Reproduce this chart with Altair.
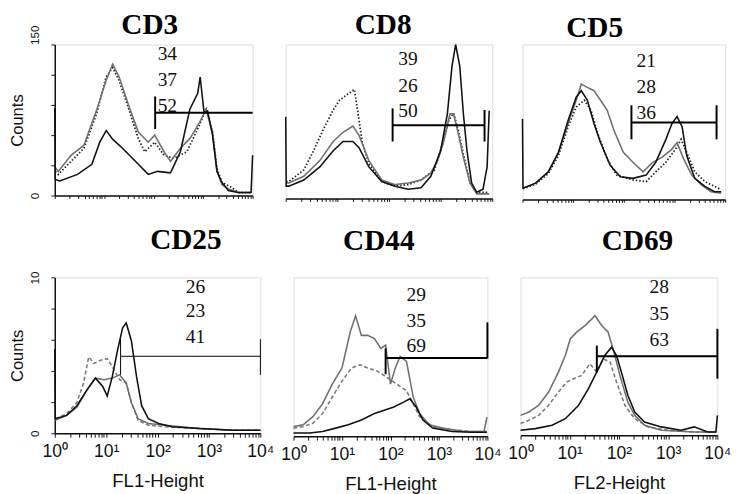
import math
import altair as alt
import pandas as pd

# ---------------- data (x: log10 fluorescence decades, y: counts) ----------------
PANEL_NAMES = ["CD3", "CD8", "CD5", "CD25", "CD44", "CD69"]
X_TITLES = [None, None, None, "FL1-Height", "FL1-Height", "FL2-Height"]
Y_MAX = [150, 100, 100, 100, 100, 100]
Y_TICKS = [[0, 30, 60, 90, 120, 150], None, None, [0, 20, 40, 60, 80, 100], None, None]
Y_TICK_TEXT = [{0: "0", 150: "150"}, None, None, {0: "0", 100: "10"}, None, None]
X_DECADES = [0, 1, 2, 3, 4]

PCT_VALUES = [[34, 37, 52], [39, 26, 50], [21, 28, 36], [26, 23, 41], [29, 35, 69], [28, 35, 63]]
PCT_X = [2.08, 2.18, 2.25, 2.55, 2.33, 2.62]
PCT_Y = [[140.3, 114.5, 88.7], [90.3, 72.9, 56.5], [89.1, 72.3, 55.6],
         [93.75, 78.1, 61.5], [89.1, 72.7, 56.4], [93.7, 76.8, 60.0]]

GATE_FROM = [2.03, 2.07, 2.15, 1.28, 1.90, 1.55]
GATE_TO = [4.00, 3.85, 3.83, 4.00, 4.00, 4.00]
GATE_AT = [82.3, 47.6, 49.7, 49.4, 49.2, 50.1]
GATE_CAPS = [
    [(2.03, 66.1, 98.4)],
    [(2.07, 37.0, 58.5), (3.85, 37.0, 57.5)],
    [(2.15, 38.8, 60.8), (3.83, 38.8, 60.8)],
    [(1.28, 37.5, 60.4), (4.00, 37.5, 60.4)],
    [(1.90, 39.0, 55.3), (4.00, 49.0, 71.7)],
    [(1.55, 40.0, 56.8), (4.00, 35.8, 67.4)],
]

CD3_BLACK_X = [0.00, 0.01, 0.10, 0.46, 0.75, 0.91, 1.04, 1.17, 1.37, 1.63, 1.89, 2.08, 2.34, 2.54, 2.73, 2.89, 2.94, 3.02, 3.09, 3.19, 3.28, 3.38, 3.51, 3.71, 3.97, 4.00]
CD3_BLACK_Y = [87, 16, 14.5, 21, 31, 53, 64.5, 56, 47, 34, 21, 24, 22.6, 43.5, 85.5, 101.6, 117.7, 82, 84, 60, 24, 13, 5, 3, 3, 40]
CD3_GRAY_X = [0.01, 0.07, 0.33, 0.59, 0.85, 1.04, 1.17, 1.30, 1.50, 1.69, 1.89, 2.02, 2.21, 2.34, 2.54, 2.73, 2.93, 3.06, 3.19, 3.28, 3.38, 3.51, 3.71, 3.97]
CD3_GRAY_Y = [28, 24, 40, 50, 85.5, 114.5, 130.6, 118, 88.7, 63, 53, 60, 43.5, 34, 47, 56.5, 72.6, 85.5, 63, 24, 11, 6.5, 3, 3]
CD3_DOT_X = [0.01, 0.07, 0.33, 0.59, 0.85, 1.04, 1.17, 1.30, 1.50, 1.69, 1.82, 2.02, 2.21, 2.41, 2.67, 2.86, 3.06, 3.19, 3.28, 3.38, 3.58, 3.71, 3.97]
CD3_DOT_Y = [24, 21, 34, 47, 82, 118, 127, 114.5, 85.5, 56.5, 43.5, 53, 40, 37, 43.5, 63, 85.5, 63, 27, 13, 8, 3, 3]

CD8_BLACK_X = [0.00, 0.01, 0.06, 0.35, 0.66, 0.92, 1.11, 1.30, 1.42, 1.61, 1.86, 2.12, 2.37, 2.62, 2.81, 3.00, 3.13, 3.22, 3.29, 3.37, 3.44, 3.51, 3.60, 3.70, 3.82, 3.90, 3.94]
CD8_BLACK_Y = [53, 8, 8, 12, 20.5, 31, 37, 37, 33, 20.5, 11, 8, 6, 7, 14.4, 31, 55, 86, 100, 86, 55, 31, 10, 4, 6, 20.5, 57]
CD8_GRAY_X = [0.01, 0.06, 0.35, 0.66, 0.92, 1.11, 1.30, 1.42, 1.61, 1.86, 2.12, 2.37, 2.62, 2.81, 2.94, 3.06, 3.18, 3.25, 3.35, 3.44, 3.57, 3.70, 3.82, 3.94]
CD8_GRAY_Y = [10, 10, 14.4, 24.6, 37, 43, 47, 41, 24.6, 12, 9, 10, 12, 16.4, 24.6, 37, 55, 55, 41, 26.7, 10, 3, 3, 3]
CD8_DOT_X = [0.01, 0.06, 0.35, 0.54, 0.73, 0.92, 1.04, 1.20, 1.33, 1.39, 1.48, 1.61, 1.86, 2.12, 2.37, 2.62, 2.88, 3.03, 3.16, 3.25, 3.35, 3.44, 3.57, 3.70, 3.82, 3.94]
CD8_DOT_Y = [11, 11, 18.5, 31, 45, 57.5, 63.7, 67.8, 70.8, 57.5, 37, 22.6, 11, 8, 9, 12, 18.5, 35, 51, 55.4, 43, 28.7, 10, 4, 4, 4]

CD5_BLACK_X = [0.00, 0.01, 0.26, 0.51, 0.71, 0.90, 1.06, 1.16, 1.28, 1.41, 1.54, 1.73, 1.93, 2.18, 2.44, 2.63, 2.83, 2.95, 3.05, 3.15, 3.24, 3.40, 3.60, 3.79, 3.92]
CD5_BLACK_Y = [52, 7.3, 10.5, 17.8, 30.4, 51, 66, 70.2, 64, 49, 36.7, 22, 14.7, 13.6, 15.7, 24, 38.8, 49, 53.5, 47, 28.3, 13.6, 8.4, 5, 5]
CD5_GRAY_X = [0.01, 0.26, 0.51, 0.71, 0.90, 1.06, 1.16, 1.28, 1.41, 1.54, 1.67, 1.80, 1.99, 2.18, 2.38, 2.57, 2.76, 2.95, 3.05, 3.18, 3.34, 3.53, 3.72, 3.92]
CD5_GRAY_Y = [7.3, 10.5, 17.8, 30.4, 49, 64, 74.4, 72.3, 70.2, 64, 57.7, 45, 30.4, 24, 17.8, 24, 27.3, 32.5, 36.7, 26.2, 15.7, 9.4, 5, 4]
CD5_DOT_X = [0.01, 0.26, 0.51, 0.71, 0.90, 1.06, 1.22, 1.35, 1.48, 1.67, 1.86, 2.18, 2.44, 2.63, 2.83, 3.02, 3.13, 3.24, 3.40, 3.60, 3.79, 3.92]
CD5_DOT_Y = [6.9, 9.9, 16.8, 28.3, 47, 59.7, 64, 57.7, 43, 26.2, 15.7, 12.6, 11.5, 17.8, 24, 32.5, 38.8, 30.4, 17.8, 11.5, 8.4, 6.3]

CD25_BLACK_X = [0.00, 0.01, 0.23, 0.43, 0.63, 0.79, 0.93, 1.02, 1.12, 1.22, 1.32, 1.39, 1.49, 1.59, 1.69, 1.82, 2.02, 2.28, 2.81, 3.47, 4.00]
CD25_BLACK_Y = [54, 9.4, 11.5, 17.7, 28, 35.4, 30.2, 24, 36.5, 53, 67.7, 70.8, 59.4, 36.5, 17.7, 9.4, 6.25, 4.2, 3.1, 2, 2]
CD25_GRAY_X = [0.01, 0.23, 0.43, 0.63, 0.79, 0.96, 1.12, 1.26, 1.39, 1.49, 1.62, 1.82, 2.15, 2.81, 3.47, 4.00]
CD25_GRAY_Y = [8.3, 11.5, 16.7, 28, 35.4, 34.4, 35.4, 37.5, 32.3, 19.8, 9.4, 6.25, 5.2, 3.1, 2, 2]
CD25_DASH_X = [0.01, 0.23, 0.43, 0.56, 0.66, 0.76, 0.89, 1.02, 1.12, 1.26, 1.39, 1.49, 1.62, 1.82, 2.15, 2.81, 3.47, 4.00]
CD25_DASH_Y = [9.4, 12.5, 19.8, 32.3, 49, 44.8, 46.9, 47.9, 42.7, 34.4, 32.3, 19.8, 8.3, 5.2, 4.2, 3.1, 2, 2]

CD44_BLACK_X = [0.00, 0.33, 0.60, 0.87, 1.13, 1.40, 1.67, 1.87, 2.07, 2.27, 2.40, 2.53, 2.67, 2.87, 3.27, 3.67, 3.99]
CD44_BLACK_Y = [2, 2, 3, 5.1, 7.2, 10.2, 14.3, 16.4, 18.4, 21.5, 23.6, 18.4, 10.2, 5.1, 3, 2.5, 2.5]
CD44_GRAY_X = [0.00, 0.20, 0.40, 0.60, 0.80, 1.00, 1.17, 1.28, 1.40, 1.53, 1.67, 1.80, 1.90, 2.00, 2.10, 2.20, 2.33, 2.47, 2.60, 2.80, 3.07, 3.53, 3.93, 3.99]
CD44_GRAY_Y = [6.1, 7.2, 12.3, 20.5, 32.8, 43, 65.6, 75.8, 63.5, 63.5, 61.5, 55.3, 57.4, 32.8, 43, 50.2, 47.1, 24.6, 14.3, 7.2, 5.1, 3, 3, 12]
CD44_DASH_X = [0.00, 0.20, 0.40, 0.60, 0.80, 1.00, 1.20, 1.37, 1.53, 1.73, 1.93, 2.13, 2.33, 2.47, 2.60, 2.87, 3.27, 3.67, 3.99]
CD44_DASH_Y = [5.1, 6.1, 8.2, 14.3, 24.6, 34.8, 43, 45, 43, 41, 36.9, 32.8, 28.7, 20.5, 12.3, 6.1, 4.1, 3, 3]

CD69_BLACK_X = [0.00, 0.30, 0.64, 0.91, 1.18, 1.38, 1.58, 1.71, 1.85, 1.95, 2.05, 2.18, 2.32, 2.52, 2.86, 3.26, 3.53, 3.80, 3.97, 4.00]
CD69_BLACK_Y = [3.2, 4.2, 6.3, 10.5, 19, 29.5, 42.1, 50.5, 55.8, 50.5, 40, 25.3, 14.7, 8.4, 5.3, 3.2, 5.3, 2.1, 2.1, 12.6]
CD69_GRAY_X = [0.00, 0.17, 0.37, 0.57, 0.77, 0.91, 1.01, 1.14, 1.31, 1.45, 1.51, 1.65, 1.78, 1.88, 2.02, 2.18, 2.32, 2.52, 2.86, 3.53, 3.97]
CD69_GRAY_Y = [12.6, 14.7, 19, 27.4, 40, 50.5, 61, 65.3, 69.5, 73.7, 75.8, 69.5, 65.3, 54.7, 37.9, 21, 12.6, 6.3, 3.2, 2.1, 2.1]
CD69_DASH_X = [0.00, 0.17, 0.37, 0.57, 0.77, 0.94, 1.08, 1.24, 1.41, 1.55, 1.68, 1.82, 1.95, 2.12, 2.32, 2.59, 2.99, 3.53, 3.97]
CD69_DASH_Y = [7.4, 9.5, 12.6, 19, 27.4, 33.7, 35.8, 37.9, 45.3, 40, 48.4, 46.3, 33.7, 19, 10.5, 5.3, 3.2, 2.1, 2.1]

SERIES = [
    [(CD3_DOT_X, CD3_DOT_Y, "dot"), (CD3_GRAY_X, CD3_GRAY_Y, "gray"), (CD3_BLACK_X, CD3_BLACK_Y, "black")],
    [(CD8_DOT_X, CD8_DOT_Y, "dot"), (CD8_GRAY_X, CD8_GRAY_Y, "gray"), (CD8_BLACK_X, CD8_BLACK_Y, "black")],
    [(CD5_DOT_X, CD5_DOT_Y, "dot"), (CD5_GRAY_X, CD5_GRAY_Y, "gray"), (CD5_BLACK_X, CD5_BLACK_Y, "black")],
    [(CD25_DASH_X, CD25_DASH_Y, "dash"), (CD25_GRAY_X, CD25_GRAY_Y, "gray"), (CD25_BLACK_X, CD25_BLACK_Y, "black")],
    [(CD44_DASH_X, CD44_DASH_Y, "dash"), (CD44_GRAY_X, CD44_GRAY_Y, "gray"), (CD44_BLACK_X, CD44_BLACK_Y, "black")],
    [(CD69_DASH_X, CD69_DASH_Y, "dash"), (CD69_GRAY_X, CD69_GRAY_Y, "gray"), (CD69_BLACK_X, CD69_BLACK_Y, "black")],
]

# ---------------- styles ----------------
STYLE = {
    "black": dict(color="#111111", strokeWidth=1.6),
    "gray": dict(color="#707070", strokeWidth=1.6),
    "dot": dict(color="#222222", strokeWidth=1.8, strokeDash=[1.5, 2]),
    "dash": dict(color="#7a7a7a", strokeWidth=1.6, strokeDash=[4, 2.5]),
}
# width, height, title dx, title offset, gate width, y label padding, y title padding, y label align (bottom, top)
LAYOUT = {
    "CD3": (203, 155, -4, -15, 2, 10, 2, ("center", "left")),
    "CD8": (212, 158, -6, 2, 2, 0, 0, None),
    "CD5": (208, 159, -30, 2, 2, 0, 0, None),
    "CD25": (211, 160, 29, 16, 1, 10, 2, ("center", "center")),
    "CD44": (199, 163, -12, 22, 2, 0, 0, None),
    "CD69": (202, 162, 19, 22, 2, 0, 0, None),
}

minor = []
for d in X_DECADES[:-1]:
    for m in range(1, 10):
        minor.append(round(d + math.log10(m), 4))
minor.append(X_DECADES[-1])

SUP = "['⁰','¹','²','³','⁴']"


def make_panel(i):
    name = PANEL_NAMES[i]
    w, h, tdx, toff, gw, lpad, tpad, lalign = LAYOUT[name]
    bottom = X_TITLES[i] is not None
    if bottom:
        xaxis = alt.Axis(values=minor, title=X_TITLES[i], grid=False,
                         labelExpr="abs(datum.value - round(datum.value)) < 0.001 ? '10' + " + SUP + "[round(datum.value)] : ''",
                         labelOverlap=False, labelFlush=False, labelFont="Liberation Sans",
                         labelFontSize=18, labelColor="#111", labelPadding=6,
                         titleFont="Liberation Sans", titleFontSize=19, titleFontWeight="normal",
                         titleColor="#111", titlePadding=12, tickSize=4, tickColor="#111",
                         domainColor="#111", domainWidth=1.5)
    else:
        xaxis = alt.Axis(values=minor, title=None, grid=False, labels=False, tickSize=3,
                         tickColor="#111", domainColor="#111", domainWidth=1.5)
    if Y_TICKS[i] is not None:
        tt = Y_TICK_TEXT[i]
        expr = " : ".join(f"datum.value == {k} ? '{v}'" for k, v in tt.items()) + " : ''"
        yaxis = alt.Axis(values=Y_TICKS[i], title="Counts", grid=False, labelExpr=expr,
                         labelAngle=270,
                         labelAlign={"condition": {"test": "datum.value == 0", "value": lalign[0]},
                                     "value": lalign[1]},
                         labelBaseline="bottom",
                         labelFont="Liberation Sans", labelFontSize=12, labelColor="#111",
                         labelOverlap=False, labelFlush=False, labelPadding=lpad,
                         titleFont="Liberation Sans", titleFontSize=17, titleFontWeight="normal",
                         titleColor="#111", titlePadding=tpad,
                         tickSize=4, tickColor="#111", domainColor="#111", domainWidth=1.5)
    else:
        yaxis = None
    X = alt.X("x:Q", scale=alt.Scale(domain=[0, 4], nice=False, zero=False), axis=xaxis)
    Y = alt.Y("y:Q", scale=alt.Scale(domain=[0, Y_MAX[i]], nice=False), axis=yaxis)

    layers = []
    for xs, ys, kind in SERIES[i]:
        df = pd.DataFrame({"x": xs, "y": ys, "i": range(len(xs))})
        layers.append(alt.Chart(df).mark_line(**STYLE[kind]).encode(x=X, y=Y, order="i:Q"))
    gate = pd.DataFrame({"x": [GATE_FROM[i]], "x2": [GATE_TO[i]], "y": [GATE_AT[i]]})
    layers.append(alt.Chart(gate).mark_rule(color="#000", strokeWidth=gw).encode(x=X, x2="x2:Q", y=Y))
    caps = pd.DataFrame({"x": [c[0] for c in GATE_CAPS[i]], "y": [c[1] for c in GATE_CAPS[i]],
                         "y2": [c[2] for c in GATE_CAPS[i]]})
    layers.append(alt.Chart(caps).mark_rule(color="#000", strokeWidth=gw).encode(x=X, y=Y, y2="y2:Q"))
    nums = pd.DataFrame({"x": [PCT_X[i]] * 3, "y": PCT_Y[i], "t": [str(v) for v in PCT_VALUES[i]]})
    layers.append(alt.Chart(nums).mark_text(align="left", baseline="middle", font="Liberation Serif",
                                             fontSize=20, color="#111").encode(x=X, y=Y, text="t:N"))
    return alt.layer(*layers).properties(
        width=w, height=h,
        title=alt.TitleParams(text=name, font="Liberation Serif", fontSize=30, fontWeight="bold",
                              color="#000", anchor="middle", dx=tdx, offset=toff),
    )


top = alt.hconcat(*[make_panel(i) for i in range(3)], spacing=26)
bottom = alt.hconcat(*[make_panel(i) for i in range(3, 6)], spacing=5)
chart = alt.vconcat(top, bottom, spacing=22).properties(
    padding={"left": 0, "top": -5, "right": 0, "bottom": 0}
).configure_view(stroke="#000", strokeWidth=1.5).configure(background="white")

chart.save("out.html", embed_options={"renderer": "svg", "actions": False})
